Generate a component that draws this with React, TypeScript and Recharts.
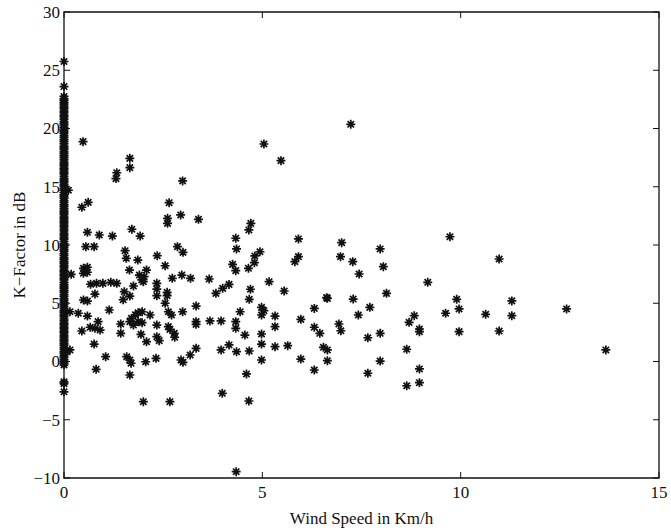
import { ReferenceArea, Scatter, ScatterChart, XAxis, YAxis, Label } from 'recharts'

// readings at wind speed 0 (the solid column on the left axis)
const zeroWindK = [
  25.75, 23.6,
  22.75, 22.55, 22.4, 22.2, 22.05, 21.85, 21.7, 21.5, 21.35, 21.15, 21.0, 20.8, 20.6, 20.45,
  20.3, 20.1, 19.9, 19.75, 19.6, 19.4, 19.25, 19.05, 18.9, 18.7, 18.5, 18.35, 18.2, 18.0, 17.85,
  17.65, 17.5, 17.3, 17.1, 16.95, 16.8, 16.6, 16.45, 16.25, 16.1, 15.9, 15.7, 15.55, 15.4, 15.2,
  15.05, 14.85, 14.7, 14.5, 14.3, 14.15, 14.0, 13.8, 13.65, 13.45, 13.3, 13.1, 12.9, 12.75, 12.6,
  12.4, 12.25, 12.05, 11.9, 11.7, 11.55, 11.35, 11.2, 11.0, 10.85, 10.65, 10.5, 10.3, 10.1, 9.95,
  9.8, 9.6, 9.45, 9.25, 9.1, 8.9, 8.75, 8.55, 8.4, 8.2, 8.05, 7.85, 7.7, 7.5, 7.35, 7.15, 7.0, 6.8,
  6.6, 6.45, 6.3, 6.1, 5.95, 5.75, 5.6, 5.4, 5.25, 5.05, 4.9, 4.7, 4.55, 4.35, 4.2, 4.0, 3.85, 3.65,
  3.5, 3.3, 3.15, 2.95, 2.8, 2.6, 2.45, 2.25, 2.1, 1.9, 1.75, 1.55, 1.4, 1.2, 1.05, 0.85, 0.7, 0.5,
  0.35, 0.15, 0.0, -0.15, -0.3,
  -1.75, -1.9, -2.6,
]

// [wind speed km/h, K-factor dB]
const nearAxis: [number, number][] = [
  [0.11, 14.7], [0.18, 7.48], [0.15, 4.27], [0.36, 4.14], [0.07, 0.84], [0.15, 0.99],
]

const lowWind: [number, number][] = [
  [0.48, 18.87], [1.66, 17.44], [1.66, 16.64], [1.33, 16.2], [1.31, 15.7], [2.99, 15.5],
  [0.61, 13.66], [0.45, 13.24], [2.65, 13.63], [2.94, 12.58], [2.61, 12.29], [2.61, 11.86],
  [0.59, 11.09], [0.89, 10.86], [1.22, 10.77], [1.71, 11.35], [1.92, 10.77],
  [0.55, 9.86], [0.76, 9.86], [1.54, 9.51], [1.57, 8.86], [1.86, 8.71], [2.86, 9.86], [3.0, 9.37],
  [2.35, 9.08], [2.55, 8.22], [0.49, 8.0], [0.59, 8.09], [0.49, 7.57], [0.59, 7.66], [1.65, 7.85],
  [1.9, 7.42], [2.08, 7.85], [2.02, 7.28], [2.0, 6.85], [1.96, 7.0], [2.73, 7.14], [2.97, 7.42],
  [3.19, 7.14], [0.67, 6.63], [0.82, 6.71], [0.98, 6.71], [1.18, 6.8], [1.33, 6.71], [1.75, 6.48],
  [0.78, 5.79], [1.52, 5.99], [1.66, 5.62], [1.49, 5.3], [2.34, 6.71], [2.34, 6.22], [2.34, 5.65],
  [2.6, 5.94], [2.6, 5.65], [0.49, 5.28], [0.59, 5.19], [2.55, 5.0], [0.59, 3.9], [1.14, 4.42],
  [1.87, 4.19], [1.97, 4.27], [2.17, 3.99], [2.63, 4.27], [2.71, 3.99], [2.99, 4.27], [1.8, 4.0],
  [1.7, 3.7], [0.86, 3.42], [0.66, 2.94], [0.78, 2.85], [0.91, 2.7], [0.45, 2.62], [1.43, 3.22],
  [1.66, 3.42], [1.75, 3.13], [1.87, 3.42], [1.97, 3.33], [2.34, 3.13], [2.63, 2.99], [2.67, 2.76],
  [2.78, 2.42], [1.43, 2.42], [1.94, 2.33], [2.34, 2.13], [2.4, 1.79], [2.08, 1.7], [2.79, 2.08],
  [0.76, 1.5], [1.05, 0.41], [1.58, 0.41], [1.66, 0.13], [1.69, -0.15], [2.06, -0.02], [2.32, 0.27],
  [2.95, 0.13], [3.0, -0.07], [0.81, -0.67], [1.66, -1.16], [2.0, -3.45], [2.67, -3.45],
]

const midWind: [number, number][] = [
  [7.23, 20.36], [5.04, 18.67], [5.47, 17.24], [3.39, 12.2], [4.71, 11.86], [4.66, 11.29],
  [4.33, 10.58], [4.35, 9.66], [5.91, 10.52], [7.0, 10.2], [7.97, 9.66], [5.91, 9.0], [5.82, 8.57],
  [6.97, 9.0], [7.28, 8.57], [7.44, 7.51], [8.05, 8.14], [8.13, 5.85], [4.94, 9.42], [4.81, 9.06],
  [4.8, 8.48], [4.25, 8.34], [4.33, 7.8], [4.65, 8.0], [5.17, 6.85], [5.55, 6.05], [3.66, 7.08],
  [3.83, 5.85], [4.0, 6.28], [4.16, 6.62], [4.7, 6.2], [6.62, 5.48], [7.29, 5.36], [4.67, 5.34],
  [3.33, 4.76], [3.33, 3.42], [3.33, 3.19], [3.68, 3.48], [3.96, 3.48], [4.33, 3.42], [4.33, 2.85],
  [4.44, 4.27], [4.98, 4.65], [4.98, 3.99], [5.04, 4.36], [5.32, 3.9], [5.32, 2.99], [4.56, 2.27],
  [4.98, 2.36], [4.98, 1.5], [3.96, 0.99], [4.16, 1.42], [4.35, 0.84], [4.67, 0.9], [5.32, 1.27],
  [5.64, 1.36], [3.18, 0.56], [3.33, 1.13], [4.98, 0.13], [4.6, -1.07], [3.99, -2.73], [4.66, -3.39],
  [4.34, -9.46], [5.97, 3.62], [6.31, 4.56], [6.31, 2.94], [6.45, 2.42], [6.64, 5.42], [6.93, 3.22],
  [6.98, 2.64], [7.42, 3.99], [7.71, 4.65], [5.97, 0.21], [6.31, -0.73], [6.54, 1.22], [6.64, 0.99],
  [6.64, 0.07], [7.66, 2.04], [7.97, 2.42], [7.66, -1.01], [7.97, 0.04],
]

const highWind: [number, number][] = [
  [9.73, 10.71], [10.97, 8.8], [9.17, 6.8], [9.9, 5.34], [11.29, 5.2], [9.96, 4.51], [9.62, 4.14],
  [10.63, 4.05], [11.29, 3.93], [12.67, 4.51], [8.83, 3.93], [8.7, 3.36], [8.96, 2.79], [8.96, 2.56],
  [9.96, 2.56], [10.97, 2.62], [8.64, 1.05], [13.66, 0.99], [8.96, -0.64], [8.96, -1.82], [8.64, -2.08],
]

const xTicks = [0, 5, 10, 15]
const yTicks = [-10, -5, 0, 5, 10, 15, 20, 25, 30]

const points = [
  ...zeroWindK.map((k) => ({ wind: 0, k })),
  ...[...nearAxis, ...lowWind, ...midWind, ...highWind].map(([wind, k]) => ({ wind, k })),
]

const FONT = '"Liberation Serif", "DejaVu Serif", serif'
const INK = '#111'
const box = { left: 64, right: 659, top: 12, bottom: 478 }
const tickLen = 6

const fmt = (v: number) => (v < 0 ? `\u2212${Math.abs(v)}` : String(v))

// MATLAB-style '*' marker with a dark core
function Asterisk({ cx, cy }: any) {
  const r = 4.5
  const d = 3.2
  return (
    <g>
      <path
        d={`M${cx - r},${cy}H${cx + r}M${cx},${cy - r}V${cy + r}M${cx - d},${cy - d}L${cx + d},${cy + d}M${cx - d},${cy + d}L${cx + d},${cy - d}`}
        stroke={INK}
        strokeWidth={1.7}
        fill="none"
      />
      <circle cx={cx} cy={cy} r={2} fill={INK} />
    </g>
  )
}

function XTick({ x, y, payload }: any) {
  return (
    <g>
      <line x1={x} x2={x} y1={box.bottom} y2={box.bottom - tickLen} stroke={INK} />
      <line x1={x} x2={x} y1={box.top} y2={box.top + tickLen} stroke={INK} />
      <text x={x} y={y} dy="0.71em" textAnchor="middle" fontFamily={FONT} fontSize={17} fill={INK}>
        {fmt(payload.value)}
      </text>
    </g>
  )
}

function YTick({ x, y, payload }: any) {
  return (
    <g>
      <line x1={box.left} x2={box.left + tickLen} y1={y} y2={y} stroke={INK} />
      <line x1={box.right} x2={box.right - tickLen} y1={y} y2={y} stroke={INK} />
      <text x={x} y={y} dy="0.35em" textAnchor="end" fontFamily={FONT} fontSize={17} fill={INK}>
        {fmt(payload.value)}
      </text>
    </g>
  )
}

export default function App() {
  return (
    <div style={{ position: 'absolute', left: 0, top: 0, background: '#fff' }}>
      <ScatterChart width={671} height={531} margin={{ top: 12, right: 12, bottom: 0, left: 0 }}>
        <XAxis
          type="number"
          dataKey="wind"
          domain={[0, 15]}
          ticks={xTicks}
          height={53}
          tickSize={0}
          tickMargin={8}
          axisLine={false}
          tick={<XTick />}
        >
          <Label
            content={({ viewBox }: any) => (
              <text
                x={viewBox.x + viewBox.width / 2}
                y={524}
                textAnchor="middle"
                fontFamily={FONT}
                fontSize={17}
                fill={INK}
              >
                Wind Speed in Km/h
              </text>
            )}
          />
        </XAxis>
        <YAxis
          type="number"
          dataKey="k"
          domain={[-10, 30]}
          ticks={yTicks}
          width={64}
          tickSize={0}
          tickMargin={4}
          axisLine={false}
          tick={<YTick />}
        >
          <Label
            content={({ viewBox }: any) => {
              const cy = viewBox.y + viewBox.height / 2
              return (
                <text
                  x={19}
                  y={cy}
                  transform={`rotate(-90 19 ${cy})`}
                  textAnchor="middle"
                  dominantBaseline="central"
                  fontFamily={FONT}
                  fontSize={17}
                  fill={INK}
                >
                  K{'\u2212'}Factor in dB
                </text>
              )
            }}
          />
        </YAxis>
        <ReferenceArea x1={0} x2={15} y1={-10} y2={30} fill="none" stroke={INK} strokeWidth={1.3} />
        <Scatter data={points} shape={<Asterisk />} isAnimationActive={false} />
      </ScatterChart>
    </div>
  )
}
